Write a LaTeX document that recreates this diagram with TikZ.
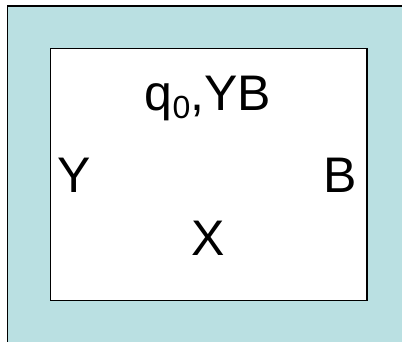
\documentclass[tikz,border=0pt]{standalone}
\usepackage{fontspec}
\setmainfont{Liberation Sans}
\definecolor{panelblue}{RGB}{186,224,226}
\tikzset{
  lbl/.style={inner sep=0pt, anchor=base, font=\fontsize{50}{54}\selectfont},
  frame/.style={draw=black, line width=1.5pt}
}
\begin{document}
\begin{tikzpicture}[x=1pt,y=-1pt]
\useasboundingbox (0,0) rectangle (402,341);
\begin{scope}
\clip (0,0) rectangle (402,341);
\path[frame, fill=panelblue] (7.5,6) rectangle (420,360);
\end{scope}
\node[frame, fill=white, inner sep=0pt, minimum width=316.5pt, minimum height=252pt, anchor=north west] (box) at (49.8,47.8) {};
\node[lbl] (title) at (208,110) {q\raisebox{-8pt}{\fontsize{32}{32}\selectfont 0},YB};
\node[lbl] (y) at (74.5,192) {Y};
\node[lbl] (b) at (340,192) {B};
\node[lbl] (x) at (208,255) {X};
\end{tikzpicture}
\end{document}
